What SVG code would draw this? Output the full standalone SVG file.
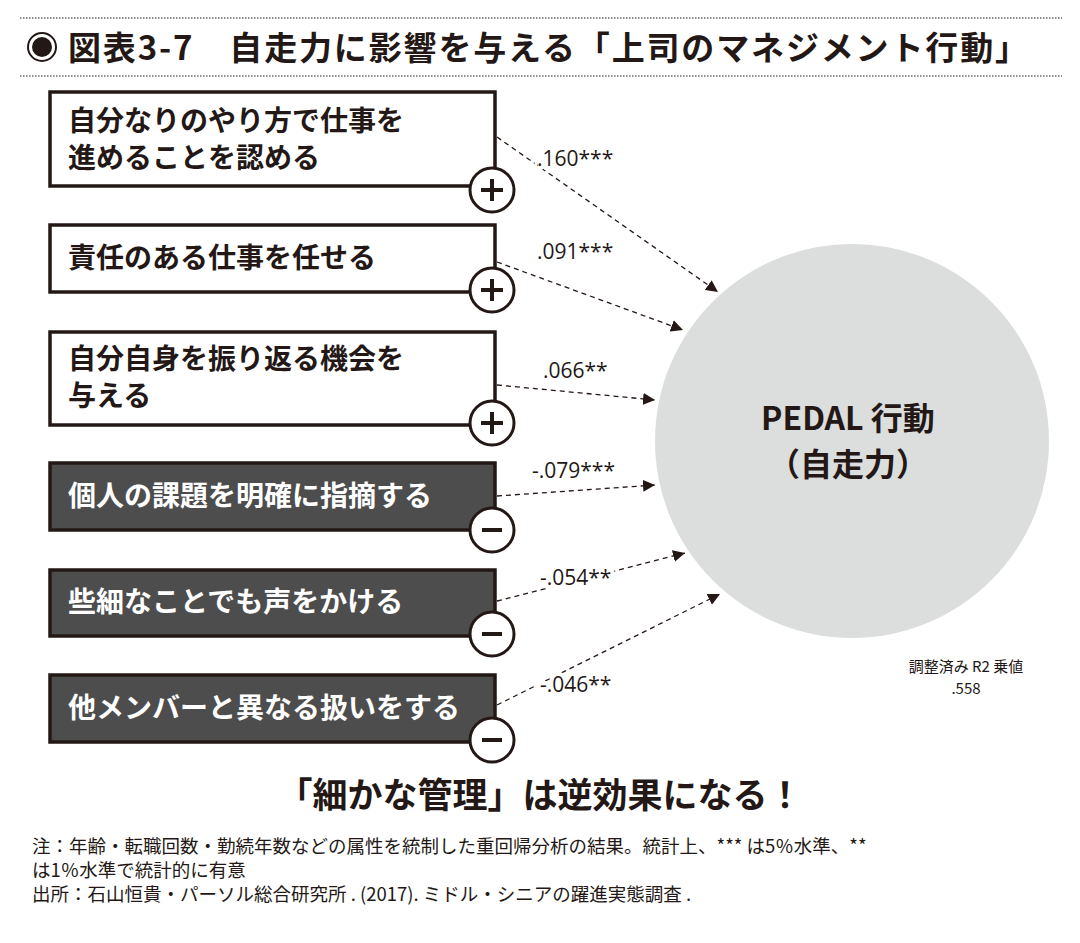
<svg xmlns="http://www.w3.org/2000/svg" width="1080" height="943" viewBox="0 0 1080 943">
<style>
text{font-family:"Noto Sans CJK JP","Noto Sans",sans-serif;fill:#231815}
.t{font-size:28px;font-weight:bold}
.w{fill:#fff}
.bx{fill:#fff;stroke:#231815;stroke-width:3.5}
.dk{fill:#4d4d4d;stroke:#231815;stroke-width:3.5}
.sg{fill:#fff;stroke:#231815;stroke-width:3}
.ln{stroke:#231815;stroke-width:1.3;stroke-dasharray:5 4;fill:none;marker-end:url(#a)}
.lb{font-size:21px;font-family:"Open Sans","Noto Sans",sans-serif;stroke:#fff;stroke-width:8;paint-order:stroke}
.nt{font-size:18.5px}
</style>
<defs><marker id="a" viewBox="0 0 10 10" refX="10" refY="5" markerWidth="12" markerHeight="12" markerUnits="userSpaceOnUse" orient="auto"><path d="M0,0L10,5L0,10z" fill="#231815"/></marker></defs>
<rect width="1080" height="943" fill="#fff"/>
<line x1="20" y1="18" x2="1062" y2="18" stroke="#231815" stroke-dasharray="1.5 1.5"/>
<line x1="20" y1="76" x2="1062" y2="76" stroke="#231815" stroke-dasharray="1.5 1.5"/>
<g id="title"><circle cx="42" cy="47" r="14" fill="#fff" stroke="#231815" stroke-width="2"/><circle cx="42" cy="47" r="10" fill="#231815"/>
<text x="68" y="60" font-size="33" font-weight="bold" textLength="960" lengthAdjust="spacing">図表3-7　自走力に影響を与える「上司のマネジメント行動」</text></g>
<g id="target"><circle cx="852" cy="441" r="197" fill="#dcdddd"/>
<text x="848" y="430" text-anchor="middle" font-size="32" font-weight="bold">PEDAL 行動</text>
<text x="848" y="476" text-anchor="middle" font-size="32" font-weight="bold">（自走力）</text></g>
<g id="connectors">
<line class="ln" x1="497" y1="137" x2="718" y2="292"/>
<line class="ln" x1="497" y1="262" x2="683" y2="330"/>
<line class="ln" x1="497" y1="385" x2="655" y2="400"/>
<line class="ln" x1="497" y1="496" x2="655" y2="485"/>
<line class="ln" x1="497" y1="601" x2="685" y2="553"/>
<line class="ln" x1="497" y1="705" x2="720" y2="594"/>
<text class="lb" x="537" y="166">.160***</text>
<text class="lb" x="537" y="259">.091***</text>
<text class="lb" x="543" y="378">.066**</text>
<text class="lb" x="532" y="478">-.079***</text>
<text class="lb" x="540" y="585">-.054**</text>
<text class="lb" x="540" y="692">-.046**</text>
</g>
<g id="n1"><rect class="bx" x="50" y="92" width="445" height="94"/><text class="t" x="68" y="131">自分なりのやり方で仕事を</text><text class="t" x="68" y="168">進めることを認める</text><circle class="sg" cx="492" cy="190" r="22"/><path d="M481,190h22M492,179v22" stroke="#231815" stroke-width="4"/></g>
<g id="n2"><rect class="bx" x="50" y="225" width="445" height="67"/><text class="t" x="68" y="268">責任のある仕事を任せる</text><circle class="sg" cx="492" cy="290" r="22"/><path d="M481,290h22M492,279v22" stroke="#231815" stroke-width="4"/></g>
<g id="n3"><rect class="bx" x="50" y="332" width="445" height="93"/><text class="t" x="68" y="369">自分自身を振り返る機会を</text><text class="t" x="68" y="406">与える</text><circle class="sg" cx="492" cy="423" r="22"/><path d="M481,423h22M492,412v22" stroke="#231815" stroke-width="4"/></g>
<g id="n4"><rect class="dk" x="50" y="463" width="445" height="67"/><text class="t w" x="68" y="506">個人の課題を明確に指摘する</text><circle class="sg" cx="492" cy="530" r="22"/><path d="M482,530h20" stroke="#231815" stroke-width="4"/></g>
<g id="n5"><rect class="dk" x="50" y="570" width="445" height="66"/><text class="t w" x="68" y="612">些細なことでも声をかける</text><circle class="sg" cx="492" cy="634" r="22"/><path d="M482,634h20" stroke="#231815" stroke-width="4"/></g>
<g id="n6"><rect class="dk" x="50" y="675" width="445" height="67"/><text class="t w" x="68" y="718">他メンバーと異なる扱いをする</text><circle class="sg" cx="492" cy="740" r="22"/><path d="M482,740h20" stroke="#231815" stroke-width="4"/></g>
<g id="r2"><text x="966" y="672" text-anchor="middle" font-size="15">調整済み R2 乗値</text><text x="966" y="694" text-anchor="middle" font-size="15">.558</text></g>
<text x="540" y="808" text-anchor="middle" font-size="35" font-weight="bold">「細かな管理」は逆効果になる！</text>
<text class="nt" x="32" y="853">注：年齢・転職回数・勤続年数などの属性を統制した重回帰分析の結果。統計上、*** は5％水準、**</text>
<text class="nt" x="32" y="877">は1％水準で統計的に有意</text>
<text class="nt" x="32" y="901">出所：石山恒貴・パーソル総合研究所 . (2017). ミドル・シニアの躍進実態調査 .</text>
</svg>
